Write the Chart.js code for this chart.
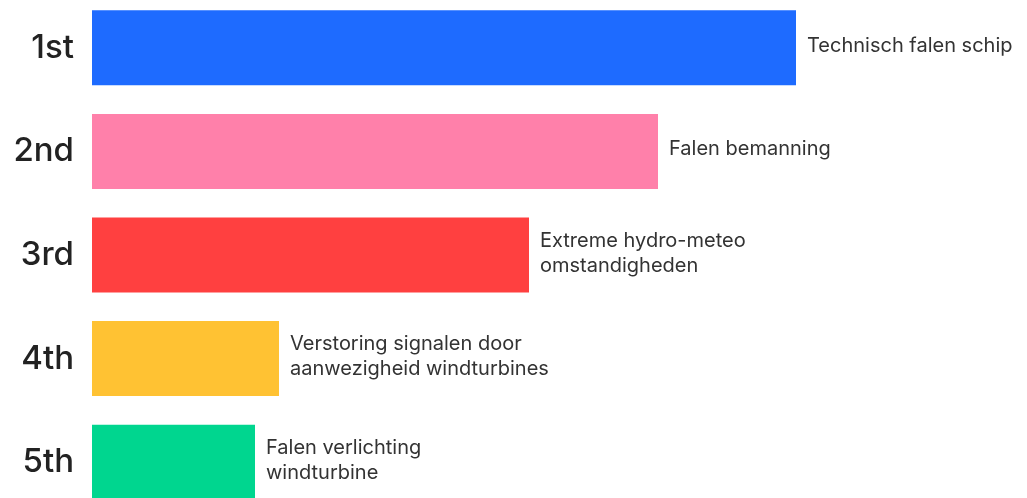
<!DOCTYPE html>
<html>
<head>
<meta charset="utf-8">
<script src="https://cdn.jsdelivr.net/npm/chart.js@4/dist/chart.umd.min.js"></script>
<style>
  html, body { margin: 0; padding: 0; background: #fff; overflow: hidden; }
  #wrap { position: absolute; left: 0; top: -4px; width: 1027px; height: 518px; }
</style>
</head>
<body>
<div id="wrap"><canvas id="chart"></canvas></div>
<script>
// ranks on the axis, causes next to the bars
const ranks = ['1st', '2nd', '3rd', '4th', '5th'];
const causes = [
  ['Technisch falen schip'],
  ['Falen bemanning'],
  ['Extreme hydro-meteo', 'omstandigheden'],
  ['Verstoring signalen door', 'aanwezigheid windturbines'],
  ['Falen verlichting', 'windturbine']
];
const values = [704, 566, 437, 187, 163];
const colors = ['#1e6bff', '#ff80aa', '#ff4040', '#ffc233', '#00d68f'];

// writes the cause text just right of each bar
const causeLabels = {
  id: 'causeLabels',
  afterDatasetsDraw(chart) {
    const ctx = chart.ctx;
    const meta = chart.getDatasetMeta(0);
    ctx.save();
    ctx.font = '20px Inter, sans-serif';
    ctx.fillStyle = '#333';
    ctx.textAlign = 'left';
    ctx.textBaseline = 'middle';
    const lh = 25;
    meta.data.forEach((bar, i) => {
      const lines = causes[i];
      const y0 = bar.y - 2 - (lines.length - 1) * lh / 2;
      lines.forEach((t, j) => ctx.fillText(t, bar.x + 11, y0 + j * lh));
    });
    ctx.restore();
  }
};

new Chart(document.getElementById('chart'), {
  type: 'bar',
  data: {
    labels: ranks,
    datasets: [{
      data: values,
      backgroundColor: colors,
      borderWidth: 0,
      barPercentage: 0.724,
      categoryPercentage: 1
    }]
  },
  options: {
    indexAxis: 'y',
    responsive: true,
    maintainAspectRatio: false,
    animation: false,
    layout: { padding: 0 },
    plugins: { legend: { display: false }, tooltip: { enabled: false } },
    scales: {
      x: { display: false, min: 0, max: 935 },
      y: {
        grid: { display: false },
        border: { display: false },
        afterFit: s => {
          s.width = 92;
          s.paddingTop = 0;
          s.paddingBottom = 0;
        },
        ticks: {
          padding: 10,
          color: '#222',
          font: { family: 'Inter, sans-serif', size: 33, weight: '500' }
        }
      }
    }
  },
  plugins: [causeLabels]
});
</script>
</body>
</html>
